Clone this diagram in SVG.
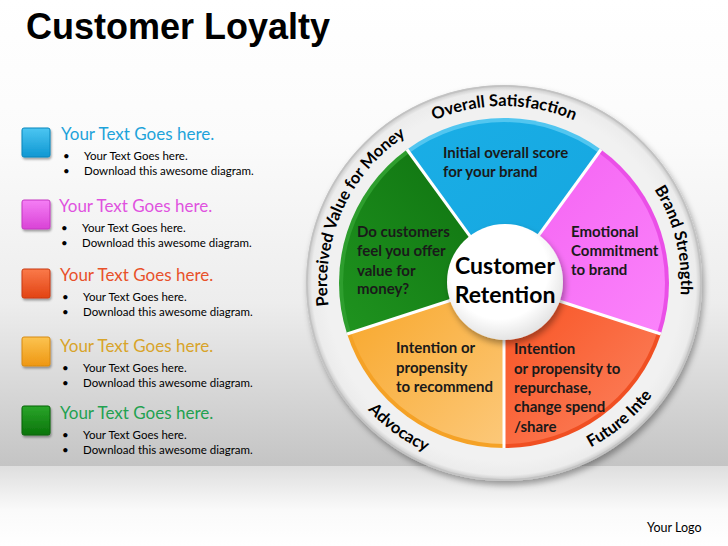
<svg xmlns="http://www.w3.org/2000/svg" width="728" height="546" viewBox="0 0 728 546">
<defs>
  <linearGradient id="bg" x1="0" y1="0" x2="0" y2="1">
    <stop offset="0" stop-color="#ffffff"/>
    <stop offset="0.3" stop-color="#fbfbfb"/>
    <stop offset="0.65" stop-color="#ededed"/>
    <stop offset="1" stop-color="#c4c4c4"/>
  </linearGradient>
  <linearGradient id="bg2" x1="0" y1="0" x2="0" y2="1">
    <stop offset="0" stop-color="#dedede"/>
    <stop offset="0.55" stop-color="#fafafa"/>
    <stop offset="1" stop-color="#ffffff"/>
  </linearGradient>
  <radialGradient id="ringG" cx="0.5" cy="0.5" r="0.5">
    <stop offset="0.9" stop-color="#f1f1f1"/>
    <stop offset="0.97" stop-color="#ececec"/>
    <stop offset="1" stop-color="#c4c4c4"/>
  </radialGradient>
  <radialGradient id="hubG" cx="0.45" cy="0.4" r="0.6">
    <stop offset="0.7" stop-color="#ffffff"/>
    <stop offset="1" stop-color="#e4e4e4"/>
  </radialGradient>
  <linearGradient id="gCyan" x1="0" y1="0" x2="1" y2="1"><stop offset="0" stop-color="#1aaee6"/><stop offset="1" stop-color="#15a6df"/></linearGradient>
  <linearGradient id="gPink" x1="0" y1="0" x2="1" y2="1"><stop offset="0" stop-color="#f460f2"/><stop offset="1" stop-color="#fb84fb"/></linearGradient>
  <linearGradient id="gRed" x1="0" y1="0" x2="1" y2="1"><stop offset="0" stop-color="#f8501f"/><stop offset="1" stop-color="#fc8461"/></linearGradient>
  <linearGradient id="gOrange" x1="0" y1="0" x2="1" y2="1"><stop offset="0" stop-color="#f8a628"/><stop offset="1" stop-color="#fcc879"/></linearGradient>
  <linearGradient id="gGreen" x1="1" y1="0" x2="0" y2="1"><stop offset="0" stop-color="#0e700f"/><stop offset="1" stop-color="#1f931f"/></linearGradient>
  <linearGradient id="sqCyan" x1="0" y1="0" x2="0" y2="1"><stop offset="0" stop-color="#4cc6f2"/><stop offset="1" stop-color="#0f97d2"/></linearGradient>
  <linearGradient id="sqPink" x1="0" y1="0" x2="0" y2="1"><stop offset="0" stop-color="#f57ef5"/><stop offset="1" stop-color="#d943d6"/></linearGradient>
  <linearGradient id="sqRed" x1="0" y1="0" x2="0" y2="1"><stop offset="0" stop-color="#fa7a4a"/><stop offset="1" stop-color="#e24313"/></linearGradient>
  <linearGradient id="sqOrange" x1="0" y1="0" x2="0" y2="1"><stop offset="0" stop-color="#fcc350"/><stop offset="1" stop-color="#ee9712"/></linearGradient>
  <linearGradient id="sqGreen" x1="0" y1="0" x2="0" y2="1"><stop offset="0" stop-color="#2aa52a"/><stop offset="1" stop-color="#0a740a"/></linearGradient>
  <filter id="shadow" x="-20%" y="-20%" width="140%" height="140%">
    <feDropShadow dx="2" dy="4" stdDeviation="3" flood-color="#000" flood-opacity="0.35"/>
  </filter>
  <filter id="sqShadow" x="-30%" y="-30%" width="160%" height="160%">
    <feDropShadow dx="1" dy="2" stdDeviation="1.2" flood-color="#000" flood-opacity="0.35"/>
  </filter>
  <path id="cwPath" d="M 504 460 A 177 177 0 1 1 504 106 A 177 177 0 1 1 504 460"/>
  <path id="ccwPath" d="M 504 97 A 186 186 0 1 0 504 469 A 186 186 0 1 0 504 97"/>
</defs>
<style>
  .title { font-family: "Liberation Sans", Arial, sans-serif; font-weight: bold; font-size: 36px; fill: #000; }
  .lt { font-family: Lato, "Open Sans", sans-serif; font-size: 17px; }
  .lb { font-family: Lato, "Open Sans", sans-serif; font-size: 11.5px; fill: #000; }
  .seg { font-family: Lato, "Open Sans", sans-serif; font-weight: bold; font-size: 15px; fill: #1a1a1a; }
  .ring { font-family: Lato, "Open Sans", sans-serif; font-weight: bold; font-size: 16.5px; fill: #000; }
  .hub { font-family: Lato, "Open Sans", sans-serif; font-weight: bold; font-size: 23px; fill: #000; text-anchor: middle; }
  .sep { stroke: #ffffff; stroke-width: 3; }
  .sq { stroke-width: 1; }
</style>

<rect x="0" y="0" width="728" height="466" fill="url(#bg)"/>
<rect x="0" y="466" width="728" height="80" fill="url(#bg2)"/>

<text class="title" x="26" y="39">Customer Loyalty</text>

<g id="legend-cyan">
  <rect class="sq" x="22" y="128" width="28" height="29" rx="2" fill="url(#sqCyan)" stroke="#0b86bd" filter="url(#sqShadow)"/>
  <text class="lt" x="61" y="140" fill="#1ea3da">Your Text Goes here.</text>
  <text class="lb" x="63" y="160">•</text><text class="lb" x="84" y="160">Your Text Goes here.</text>
  <text class="lb" x="63" y="175">•</text><text class="lb" x="84" y="175">Download this awesome diagram.</text>
</g>
<g id="legend-pink">
  <rect class="sq" x="22" y="200" width="28" height="29" rx="2" fill="url(#sqPink)" stroke="#c437c2" filter="url(#sqShadow)"/>
  <text class="lt" x="59" y="212" fill="#e052df">Your Text Goes here.</text>
  <text class="lb" x="61" y="232">•</text><text class="lb" x="82" y="232">Your Text Goes here.</text>
  <text class="lb" x="61" y="247">•</text><text class="lb" x="82" y="247">Download this awesome diagram.</text>
</g>
<g id="legend-red">
  <rect class="sq" x="22" y="269" width="28" height="29" rx="2" fill="url(#sqRed)" stroke="#c93a10" filter="url(#sqShadow)"/>
  <text class="lt" x="60" y="281" fill="#e8512a">Your Text Goes here.</text>
  <text class="lb" x="62" y="301">•</text><text class="lb" x="83" y="301">Your Text Goes here.</text>
  <text class="lb" x="62" y="316">•</text><text class="lb" x="83" y="316">Download this awesome diagram.</text>
</g>
<g id="legend-orange">
  <rect class="sq" x="22" y="337" width="28" height="29" rx="2" fill="url(#sqOrange)" stroke="#d78a10" filter="url(#sqShadow)"/>
  <text class="lt" x="60" y="352" fill="#d8a42a">Your Text Goes here.</text>
  <text class="lb" x="62" y="372">•</text><text class="lb" x="83" y="372">Your Text Goes here.</text>
  <text class="lb" x="62" y="387">•</text><text class="lb" x="83" y="387">Download this awesome diagram.</text>
</g>
<g id="legend-green">
  <rect class="sq" x="22" y="406" width="28" height="29" rx="2" fill="url(#sqGreen)" stroke="#086408" filter="url(#sqShadow)"/>
  <text class="lt" x="60" y="419" fill="#22a150">Your Text Goes here.</text>
  <text class="lb" x="62" y="439">•</text><text class="lb" x="83" y="439">Your Text Goes here.</text>
  <text class="lb" x="62" y="454">•</text><text class="lb" x="83" y="454">Download this awesome diagram.</text>
</g>

<g id="ring">
  <circle cx="504" cy="283" r="198" fill="url(#ringG)" filter="url(#shadow)"/>
  <circle cx="504" cy="283" r="197" fill="none" stroke="#c2c2c2" stroke-width="1.5"/>
  <text class="ring"><textPath href="#cwPath" startOffset="50%" text-anchor="middle">Overall Satisfaction</textPath></text>
  <text class="ring"><textPath href="#cwPath" startOffset="31.8%" text-anchor="middle">Perceived Value for Money</textPath></text>
  <text class="ring"><textPath href="#cwPath" startOffset="71.1%" text-anchor="middle">Brand Strength</textPath></text>
  <text class="ring"><textPath href="#ccwPath" startOffset="40%" text-anchor="middle">Advocacy</textPath></text>
  <text class="ring"><textPath href="#ccwPath" startOffset="61.2%" text-anchor="middle">Future Inte</textPath></text>
</g>

<g id="seg-cyan">
  <path d="M 504 283 L 407 149.5 A 165 165 0 0 1 601 149.5 Z" fill="#52c6f0"/>
  <path d="M 504 283 L 409.4 152.8 A 161 161 0 0 1 598.6 152.8 Z" fill="url(#gCyan)"/>
  <text class="seg" x="443" y="158">Initial overall score</text>
  <text class="seg" x="443" y="177">for your brand</text>
</g>
<g id="seg-pink">
  <path d="M 504 283 L 601 149.5 A 165 165 0 0 1 660.9 334 Z" fill="#ea4fe7"/>
  <path d="M 504 283 L 598.6 152.8 A 161 161 0 0 1 657.1 332.8 Z" fill="url(#gPink)"/>
  <text class="seg" x="571" y="237">Emotional</text>
  <text class="seg" x="571" y="256">Commitment</text>
  <text class="seg" x="571" y="275">to brand</text>
</g>
<g id="seg-red">
  <path d="M 504 283 L 660.9 334 A 165 165 0 0 1 504 448 Z" fill="#f04f22"/>
  <path d="M 504 283 L 657.1 332.8 A 161 161 0 0 1 504 444 Z" fill="url(#gRed)"/>
  <text class="seg" x="514" y="354">Intention</text>
  <text class="seg" x="514" y="374">or propensity to</text>
  <text class="seg" x="514" y="393">repurchase,</text>
  <text class="seg" x="514" y="412">change spend</text>
  <text class="seg" x="514" y="432">/share</text>
</g>
<g id="seg-orange">
  <path d="M 504 283 L 504 448 A 165 165 0 0 1 347.1 334 Z" fill="#f5a226"/>
  <path d="M 504 283 L 504 444 A 161 161 0 0 1 350.9 332.8 Z" fill="url(#gOrange)"/>
  <text class="seg" x="396" y="353">Intention or</text>
  <text class="seg" x="396" y="373">propensity</text>
  <text class="seg" x="396" y="392">to recommend</text>
</g>
<g id="seg-green">
  <path d="M 504 283 L 347.1 334 A 165 165 0 0 1 407 149.5 Z" fill="#2e9e2e"/>
  <path d="M 504 283 L 350.9 332.8 A 161 161 0 0 1 409.4 152.8 Z" fill="url(#gGreen)"/>
  <text class="seg" x="357" y="237">Do customers</text>
  <text class="seg" x="357" y="256">feel you offer</text>
  <text class="seg" x="357" y="276">value for</text>
  <text class="seg" x="357" y="294">money?</text>
</g>

<g id="connectors">
  <line class="sep" x1="504" y1="283" x2="407" y2="149.5"/>
  <line class="sep" x1="504" y1="283" x2="601" y2="149.5"/>
  <line class="sep" x1="504" y1="283" x2="660.9" y2="334"/>
  <line class="sep" x1="504" y1="283" x2="504" y2="448"/>
  <line class="sep" x1="504" y1="283" x2="347.1" y2="334"/>
</g>

<g id="hub">
  <circle cx="505" cy="282" r="58" fill="url(#hubG)" filter="url(#shadow)"/>
  <text class="hub" x="505" y="274">Customer</text>
  <text class="hub" x="505" y="303">Retention</text>
</g>

<text x="647" y="532" font-family="Lato, 'Open Sans', sans-serif" font-size="12.5px" fill="#000">Your Logo</text>
</svg>
